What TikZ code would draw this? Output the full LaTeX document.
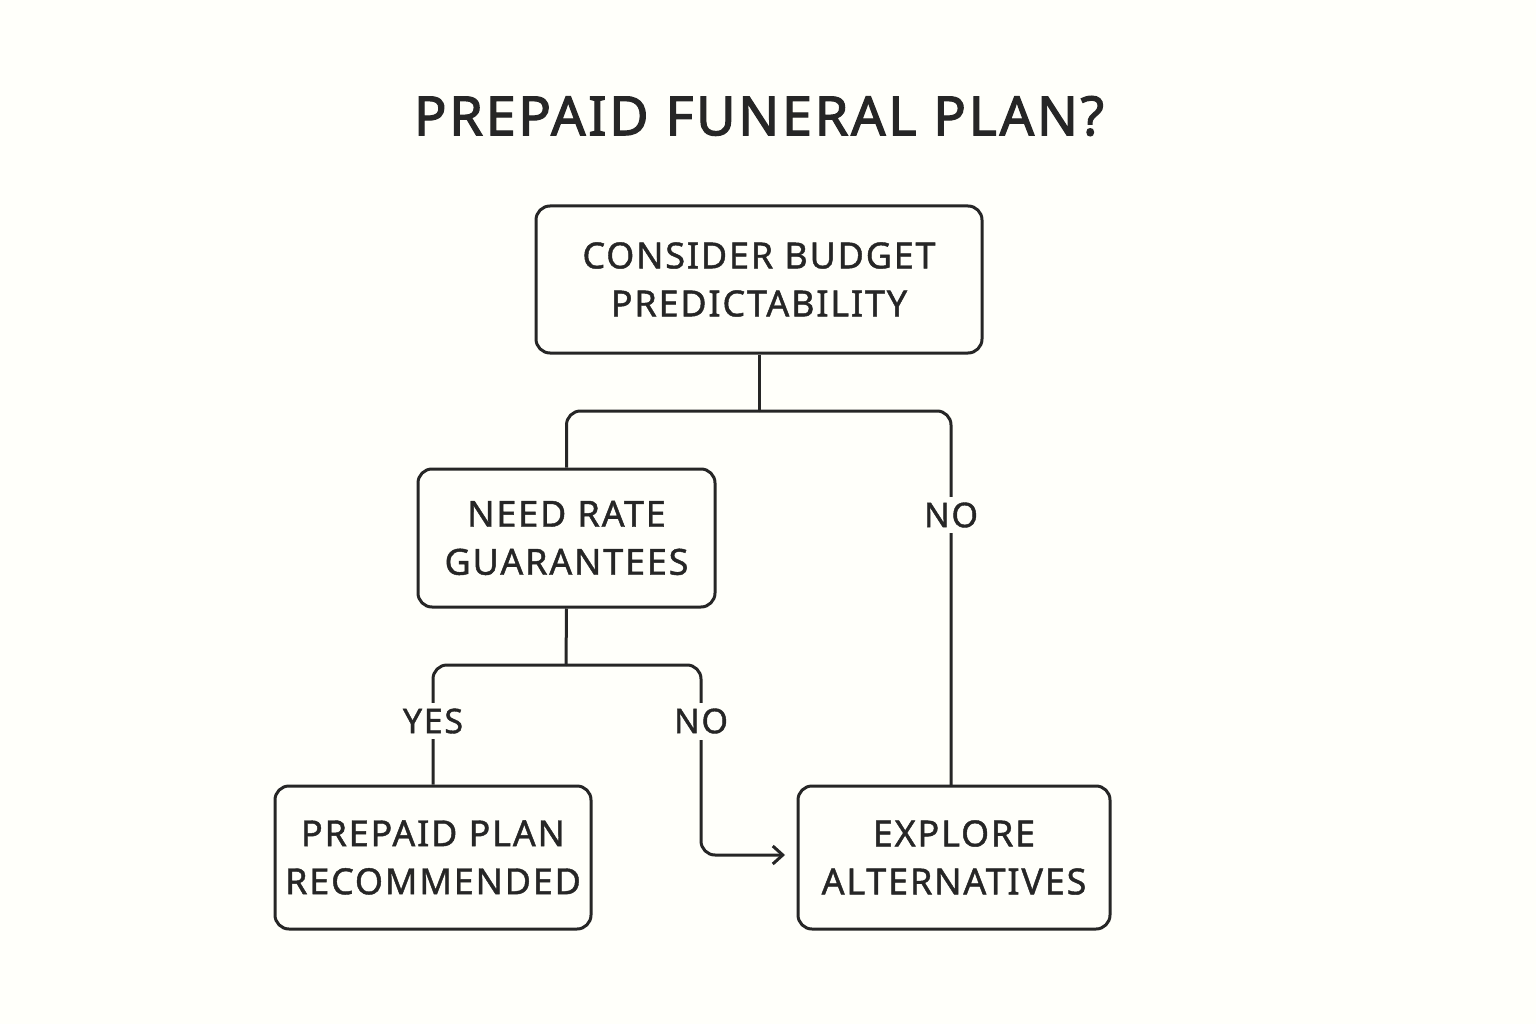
\documentclass[tikz,border=0pt]{standalone}
\usepackage{fontspec}
\setmainfont{Noto Sans}
\newfontfamily\mf{Noto Sans}[FakeBold=1.2,LetterSpace=5]
\newfontfamily\tf{Noto Sans}[FakeBold=2.2,LetterSpace=5]
\usetikzlibrary{arrows.meta}
\begin{document}
\begin{tikzpicture}[x=1pt,y=-1pt,
  box/.style={draw=black!85,line width=3pt,rounded corners=14pt,minimum width=#1,inner sep=0pt,align=center,font=\mf\fontsize{36}{48}\selectfont,text=black!85},
  lbl/.style={fill=white!98!yellow,inner sep=6pt,font=\mf\fontsize{34}{40}\selectfont,text=black!85},
  conn/.style={draw=black!85,line width=3pt,rounded corners=14pt}]
\fill[white!98!yellow] (0,0) rectangle (1536,1024);
\node[font=\tf\fontsize{54}{60}\selectfont,text=black!85] (title) at (759,116) {PREPAID FUNERAL PLAN?};
\node[box=446pt,minimum height=147pt] (top) at (759,279.5) {CONSIDER BUDGET\\PREDICTABILITY};
\node[box=297pt,minimum height=138pt] (need) at (566.5,538) {NEED RATE\\GUARANTEES};
\node[box=316pt,minimum height=143pt] (pre) at (433,857.5) {PREPAID PLAN\\RECOMMENDED};
\node[box=312pt,minimum height=143pt] (exp) at (954,857.5) {EXPLORE\\ALTERNATIVES};
\coordinate (s1) at (759,411);
\coordinate (s2) at (566,665);
\draw[conn] (top.south) -- (s1);
\draw[conn] (s1) -| (need.north);
\draw[conn] (s1) -| (951,786);
\node[lbl] (no1) at (951,515) {NO};
\draw[conn] (need.south) -- (s2);
\draw[conn] (s2) -| (pre.north);
\node[lbl] (yes) at (433,721) {YES};
\draw[conn,-{Straight Barb[length=10pt,width=18pt]}] (s2) -| (701,855) -- (785,855);
\node[lbl] (no2) at (701,721) {NO};
\end{tikzpicture}
\end{document}
